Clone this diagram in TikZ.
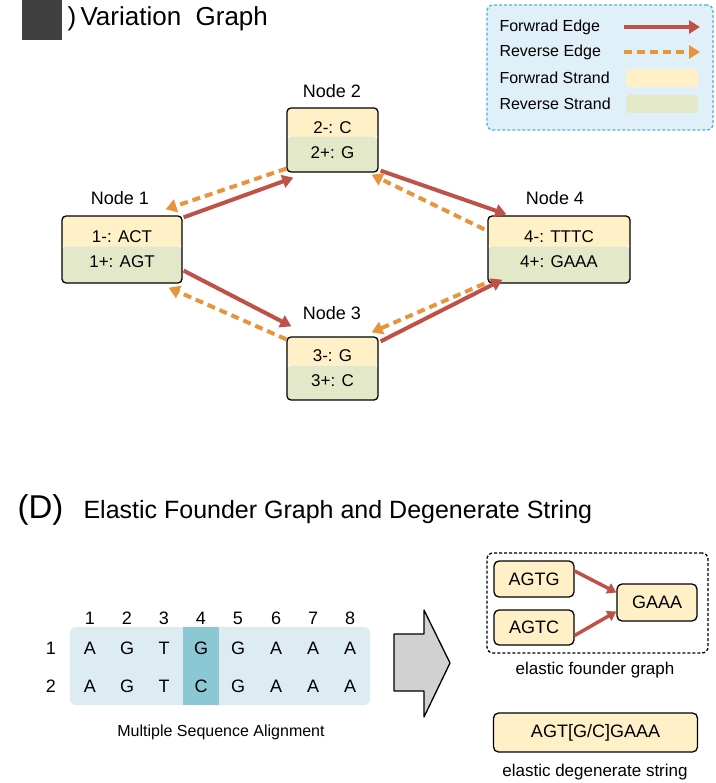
\documentclass[tikz,border=0pt]{standalone}
\usepackage{fontspec}
\setmainfont{Liberation Sans}
\usetikzlibrary{arrows.meta,calc}
\definecolor{yel}{RGB}{255,240,200}
\definecolor{grn}{RGB}{226,232,200}
\definecolor{fred}{RGB}{190,82,72}
\definecolor{rorg}{RGB}{232,148,60}
\definecolor{msa}{RGB}{220,236,242}
\definecolor{hl}{RGB}{140,200,212}
\definecolor{leg}{RGB}{224,240,248}
\definecolor{legb}{RGB}{80,180,210}
\begin{document}
\begin{tikzpicture}[x=1pt,y=-1pt,
  vnode/.style={draw=black,line width=1.3pt,rounded corners=4pt,align=center,font=\fontsize{17}{25}\selectfont,inner sep=0pt,
    path picture={\fill[yel] (path picture bounding box.north west) rectangle ([yshift=3pt]path picture bounding box.east);
      \fill[grn] ([yshift=3pt]path picture bounding box.west) rectangle (path picture bounding box.south east);}},
  lab/.style={font=\fontsize{18}{20}\selectfont},
  fwd/.style={draw=fred,line width=4pt,-{Triangle[length=11pt,width=13pt]}},
  rev/.style={draw=rorg,line width=4pt,dash pattern=on 8pt off 5pt,-{Triangle[length=11pt,width=13pt]}},
  ybox/.style={draw=black,line width=1.3pt,fill=yel,rounded corners=5pt,font=\fontsize{18}{20}\selectfont,inner sep=0pt},
  msat/.style={font=\fontsize{18}{20}\selectfont},
  legt/.style={anchor=west,font=\fontsize{16}{18}\selectfont}]
\useasboundingbox (0,0) rectangle (715,783);
% title C
\fill[black!75] (22,0) rectangle (62,40);
\fill[black!75] (62,0) arc[start angle=-90,end angle=90,radius=-20];
\node[anchor=west,font=\fontsize{26}{28}\selectfont] (tc) at (64,19) {)\,Variation\ \ Graph};
% legend
\node[draw=legb,fill=leg,line width=1.3pt,dash pattern=on 3pt off 2pt,rounded corners=6pt,minimum width=226pt,minimum height=125pt] (legbox) at (600,67.5) {};
\node[legt] (l1) at (496,27) {Forwrad Edge};
\node[legt] (l2) at (496,52) {Reverse Edge};
\node[legt] (l3) at (496,78) {Forwrad Strand};
\node[legt] (l4) at (496,104) {Reverse Strand};
\coordinate (a1) at (624,27); \coordinate (b1) at (700,27);
\coordinate (a2) at (624,52); \coordinate (b2) at (700,52);
\draw[fwd] (a1) -- (b1);
\draw[rev] (a2) -- (b2);
\node[fill=yel,rounded corners=4pt,minimum width=72pt,minimum height=18pt] (s1) at (662,78) {};
\node[fill=grn,rounded corners=4pt,minimum width=72pt,minimum height=18pt] (s2) at (662,104) {};
% nodes
\node[vnode,minimum width=91pt,minimum height=64pt] (n2) at (332.5,140) {2-: C\\2+: G};
\node[vnode,minimum width=120pt,minimum height=67pt] (n1) at (122,249.5) {1-: ACT\\1+: AGT};
\node[vnode,minimum width=142pt,minimum height=67pt] (n4) at (559,249.5) {4-: TTTC\\4+: GAAA};
\node[vnode,minimum width=91pt,minimum height=63pt] (n3) at (332.5,368.5) {3-: G\\3+: C};
\node[lab] (t2) at (332,91) {Node 2};
\node[lab] (t1) at (120,198) {Node 1};
\node[lab] (t4) at (555,198) {Node 4};
\node[lab] (t3) at (332,313) {Node 3};
\draw[fwd] ($(n1.north east)+(1,2)$) -- ($(n2.south west)+(7,5)$);
\draw[rev] ($(n2.south west)+(0,-4)$) -- ($(n1.north east)+(-17,-6)$);
\draw[fwd] ($(n2.south east)+(2,-2)$) -- ($(n4.north west)+(19,-1)$);
\draw[rev] ($(n4.north west)+(-3,14)$) -- ($(n2.south east)+(-7,2)$);
\draw[fwd] ($(n1.south east)+(1,-13)$) -- ($(n3.north west)+(5,-10)$);
\draw[rev] ($(n3.north west)+(0,3)$) -- ($(n1.south east)+(-14,4)$);
\draw[fwd] ($(n3.north east)+(2,5)$) -- ($(n4.south west)+(15,-4)$);
\draw[rev] ($(n4.south west)+(-3,0)$) -- ($(n3.north east)+(-7,-4)$);
% (D)
\node[anchor=west,font=\fontsize{33}{36}\selectfont] (dd) at (14,510) {(D)};
\node[anchor=west,font=\fontsize{25}{28}\selectfont] (dt) at (80,512) {Elastic Founder Graph and Degenerate String};
% MSA
\node[fill=msa,rounded corners=6pt,minimum width=300pt,minimum height=78pt,inner sep=0pt] (msabox) at (220,666) {};
\fill[hl] (183,627) rectangle (219,705);
\foreach \i/\x/\a/\b in {1/90/A/A,2/127/G/G,3/164/T/T,4/201/G/C,5/238/G/G,6/276/A/A,7/313/A/A,8/350/A/A}{
  \node[msat] (c\i) at (\x,618) {\i};
  \node[msat] (r\i) at (\x,648) {\a};
  \node[msat] (q\i) at (\x,686) {\b};
}
\node[msat] (row1) at (51,648) {1};
\node[msat] (row2) at (51,686) {2};
\node[font=\fontsize{16}{18}\selectfont] (mcap) at (221,732) {Multiple Sequence Alignment};
% big arrow
\draw[fill=black!18,line width=1.3pt,line join=round] (394,634) -- (424,634) -- (424,610) -- (450,663) -- (424,717) -- (424,691) -- (394,691) -- cycle;
% EFG
\node[draw=black,line width=1.3pt,dash pattern=on 3pt off 2pt,rounded corners=6pt,minimum width=221pt,minimum height=100pt] (efg) at (597.5,603) {};
\node[ybox,minimum width=80pt,minimum height=36pt] (g1) at (534,579) {AGTG};
\node[ybox,minimum width=80pt,minimum height=35pt] (g2) at (534,627.5) {AGTC};
\node[ybox,minimum width=80pt,minimum height=37pt] (g3) at (657,602.5) {GAAA};
\draw[fwd,line width=3.5pt,-{Triangle[length=9pt,width=11pt]}] ($(g1.east)+(0,-8)$) -- ($(g3.west)+(0,-10)$);
\draw[fwd,line width=3.5pt,-{Triangle[length=9pt,width=11pt]}] ($(g2.east)+(0,8)$) -- ($(g3.west)+(0,9)$);
\node[font=\fontsize{17}{19}\selectfont] (fcap) at (595,670) {elastic founder graph};
\node[ybox,minimum width=204pt,minimum height=39pt] (ds) at (595.5,732.5) {AGT[G/C]GAAA};
\node[font=\fontsize{17}{19}\selectfont] (dcap) at (595,772) {elastic degenerate string};
\end{tikzpicture}
\end{document}
